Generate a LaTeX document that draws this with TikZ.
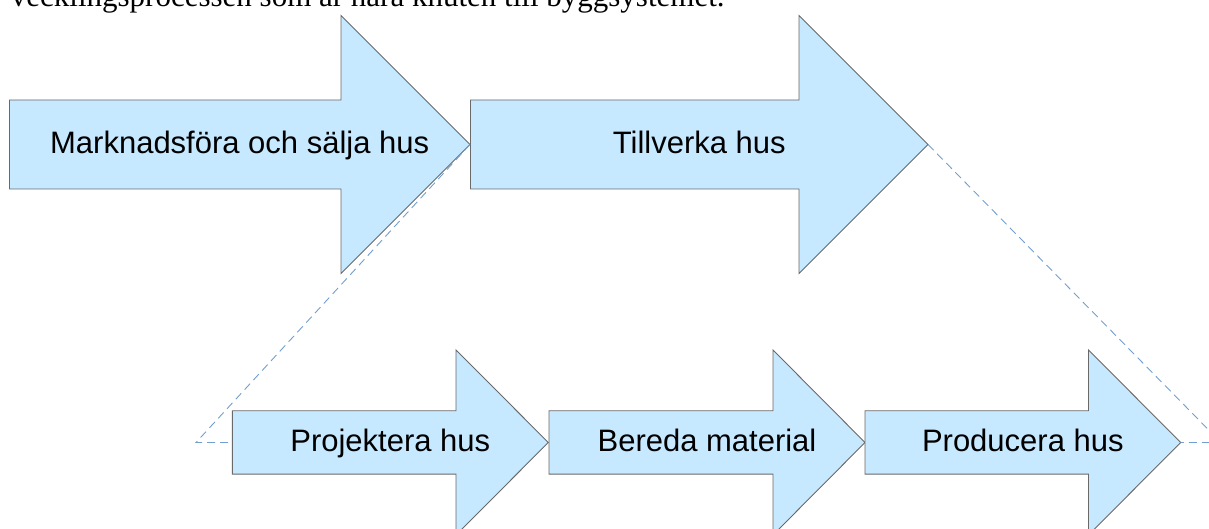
\documentclass[tikz,border=0pt]{standalone}
\usepackage{fontspec}
\setmainfont{Liberation Sans}
\newfontfamily\introfont{Liberation Serif}
\definecolor{arrowfill}{RGB}{198,233,255}
\definecolor{arrowline}{RGB}{105,105,105}
\definecolor{dashblue}{RGB}{114,159,207}
\tikzset{
  arrowshape/.style={fill=arrowfill, draw=arrowline, line width=0.9pt, line join=miter},
  arrowlabel/.style={font=\fontsize{31}{37}\selectfont, inner sep=0pt, anchor=base},
  guide/.style={draw=dashblue, line width=0.9pt, dash pattern=on 8pt off 5pt}
}
\begin{document}
\begin{tikzpicture}[x=1pt,y=1pt]
\path[use as bounding box, clip] (0,0) rectangle (1209,529);

% cut-off line of body text
\node[anchor=base west, inner sep=0pt, font=\introfont\fontsize{31}{37}\selectfont] (intro) at (10.7,522.3) {vecklingsprocessen som är nära knuten till byggsystemet.};

% top arrows
\draw[arrowshape] (9.5,429) -- (341,429) -- (341,513.5) -- (470,384.5) -- (341,255.5) -- (341,340) -- (9.5,340) -- cycle;
\coordinate (tipA) at (470,384.5);
\draw[arrowshape] (470.5,429) -- (799,429) -- (799,513.5) -- (928,384.5) -- (799,255.5) -- (799,340) -- (470.5,340) -- cycle;
\coordinate (tipB) at (928,384.5);

\node[arrowlabel] (marknad) at (239.7,375) {Marknadsföra och sälja hus};
\node[arrowlabel] (tillverka) at (699.3,375) {Tillverka hus};

% bottom arrows
\draw[arrowshape] (232.3,118.2) -- (456,118.2) -- (456,179) -- (548.3,86.5) -- (456,-6) -- (456,54.8) -- (232.3,54.8) -- cycle;
\coordinate (startP) at (232.3,86.5);
\draw[arrowshape] (549,118.2) -- (773,118.2) -- (773,179) -- (865,86.5) -- (773,-6) -- (773,54.8) -- (549,54.8) -- cycle;
\draw[arrowshape] (865,118.2) -- (1088.5,118.2) -- (1088.5,179) -- (1180.7,86.5) -- (1088.5,-6) -- (1088.5,54.8) -- (865,54.8) -- cycle;
\coordinate (tipR) at (1180.7,86.5);

\node[arrowlabel] (projektera) at (390.3,77) {Projektera hus};
\node[arrowlabel] (bereda) at (707,77) {Bereda material};
\node[arrowlabel] (producera) at (1022.8,77) {Producera hus};

% dashed zoom guides
\coordinate (cornerL) at (196,86.5);
\coordinate (cornerR) at (1221,86.5);
\draw[guide] (tipA) -- (cornerL) -- (startP);
\draw[guide] (tipB) -- (cornerR) -- (tipR);
\end{tikzpicture}
\end{document}
